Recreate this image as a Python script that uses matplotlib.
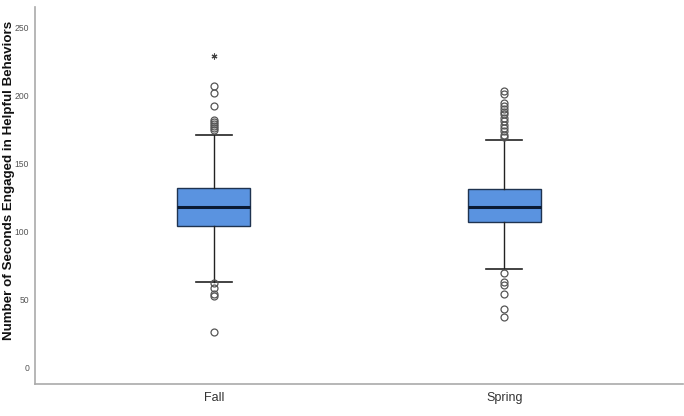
import matplotlib.pyplot as plt

plt.rcParams['font.family'] = ['Liberation Sans', 'DejaVu Sans']

# Valores (segundos)
grupos = ['Fall', 'Spring']
q1 = [103.5, 107.0]
mediana = [117.5, 117.5]
q3 = [131.5, 131.0]
bigode_inf = [62.5, 72.0]
bigode_sup = [171.0, 167.0]
outliers = [
    [206.5, 201.5, 192.0, 182.0, 180.5, 179.0, 177.5, 176.0, 174.5,
     62.0, 58.0, 53.5, 52.0, 26.0],
    [203.5, 201.0, 194.0, 192.0, 190.0, 188.0, 186.0, 183.5, 181.0,
     178.5, 176.0, 173.5, 171.0, 169.5,
     69.5, 62.5, 60.5, 53.5, 42.5, 36.5],
]
extremos = [[229.0], []]

stats = []
for i, nome in enumerate(grupos):
    stats.append({
        'label': nome,
        'q1': q1[i], 'med': mediana[i], 'q3': q3[i],
        'whislo': bigode_inf[i], 'whishi': bigode_sup[i],
        'fliers': outliers[i],
    })

fig = plt.figure(figsize=(6.84, 4.16), dpi=100)
ax = fig.add_axes([35 / 684, 32 / 416, 1 - 36 / 684, 377 / 416])

ax.bxp(stats, positions=[1, 2], widths=0.25, patch_artist=True,
       boxprops=dict(facecolor='#5a93e0', edgecolor='#1f3350', linewidth=1.0),
       medianprops=dict(color='#0a1a33', linewidth=2.2),
       whiskerprops=dict(color='#222222', linewidth=1.0),
       capprops=dict(color='#222222', linewidth=1.2),
       capwidths=0.125,
       flierprops=dict(marker='o', markersize=5, markerfacecolor='none',
                       markeredgecolor='#555555', markeredgewidth=0.9))

# valores extremos marcados com asterisco
for i, ext in enumerate(extremos):
    if ext:
        ax.plot([i + 1] * len(ext), ext, linestyle='none', marker=(6, 2, 0),
                markersize=4.2, markeredgecolor='#444444', markeredgewidth=0.8)

ax.set_xlim(0.385, 2.615)
ax.set_ylim(-12.5, 265)
ax.set_yticks([0, 50, 100, 150, 200, 250])
ax.tick_params(axis='y', length=0, labelsize=6.2, labelcolor='#555555', pad=4.3)
ax.tick_params(axis='x', length=0, labelsize=9, labelcolor='#333333', pad=6)

for lado in ['top', 'right']:
    ax.spines[lado].set_visible(False)
for lado in ['left', 'bottom']:
    ax.spines[lado].set_color('#aaaaaa')
    ax.spines[lado].set_linewidth(1.2)

ax.set_ylabel('Number of Seconds Engaged in Helpful Behaviors',
              fontsize=9.6, fontweight='bold', color='#111111')
ax.yaxis.set_label_coords(-0.0315, 0.541)

fig.savefig('out.png', dpi=100)
